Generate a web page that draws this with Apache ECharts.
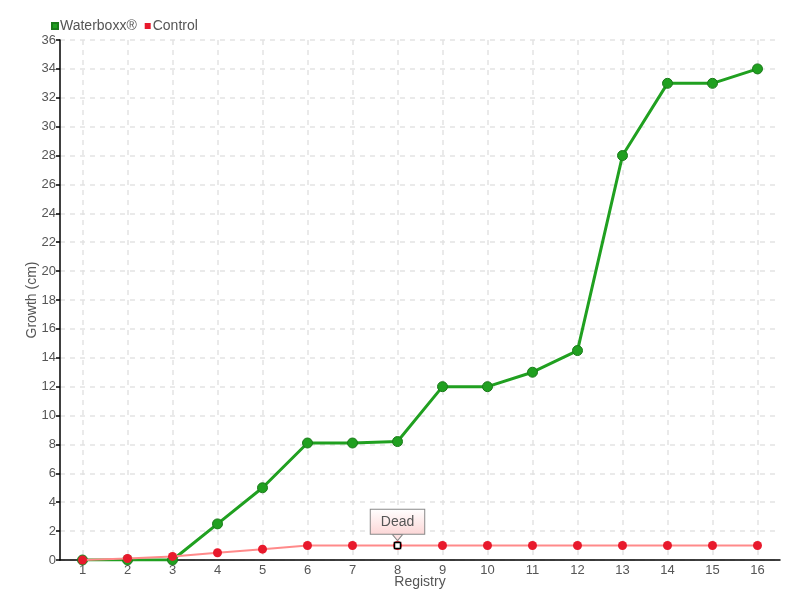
<!DOCTYPE html>
<html><head><meta charset="utf-8">
<script src="https://cdn.jsdelivr.net/npm/echarts@6/dist/echarts.min.js"></script>
<style>html,body{margin:0;padding:0;background:#fff}#c{width:800px;height:600px}</style>
</head><body><div id="c"></div>
<script>
const categories = ['1','2','3','4','5','6','7','8','9','10','11','12','13','14','15','16'];
const waterboxx = [0,0,0,2.5,5,8.1,8.1,8.2,12,12,13,14.5,28,33,33,34];
const control = [0,0.1,0.25,0.5,0.75,1,1,1,1,1,1,1,1,1,1,1];
const yTicks = {min:0, max:36, interval:2};
const annotation = {index:7, text:'Dead'};

const FONT = '"Liberation Sans",sans-serif';
const chart = echarts.init(document.getElementById('c'));
chart.setOption({
  animation:false,
  textStyle:{fontFamily:FONT, color:'#555'},
  legend:{left:46, top:14, itemWidth:6, itemHeight:6, itemGap:8, icon:'rect',
    textStyle:{fontFamily:FONT, fontSize:14, color:'#555', padding:[0,0,0,-3]},
    data:['Waterboxx®','Control']},
  grid:{left:60, right:20, top:40, bottom:40},
  xAxis:{type:'category', data:categories, boundaryGap:true,
    name:'Registry', nameLocation:'middle', nameGap:15, nameMoveOverlap:false,
    nameTextStyle:{fontFamily:FONT, fontSize:14, color:'#555'},
    axisLine:{lineStyle:{color:'#000', width:1.5}},
    axisTick:{alignWithLabel:true, length:5, lineStyle:{color:'#666'}},
    axisLabel:{fontFamily:FONT, fontSize:13, color:'#555', margin:4},
    splitLine:{show:true, alignWithLabel:true, lineStyle:{color:'#e4e4e4', type:[5,5], width:1.5}}},
  yAxis:{type:'value', min:yTicks.min, max:yTicks.max, interval:yTicks.interval,
    name:'Growth (cm)', nameLocation:'middle', nameGap:21, nameMoveOverlap:false,
    nameTextStyle:{fontFamily:FONT, fontSize:14, color:'#555'},
    axisLine:{show:true, lineStyle:{color:'#000', width:1.5}},
    axisTick:{show:true, length:4, lineStyle:{color:'#000', width:1.5}},
    axisLabel:{fontFamily:FONT, fontSize:13, color:'#555', margin:4},
    splitLine:{show:true, lineStyle:{color:'#e4e4e4', type:[5,5], width:1.5}}},
  series:[
    {name:'Waterboxx®', type:'line', data:waterboxx, symbol:'circle', symbolSize:10,
      lineStyle:{color:'#20a020', width:3}, itemStyle:{color:'#20a020', borderColor:'#1a7a1a', borderWidth:1}, z:2},
    {name:'Control', type:'line', data:control, symbol:'circle', symbolSize:9,
      lineStyle:{color:'#ff8a8a', width:2}, itemStyle:{color:'#e8192c', borderWidth:0}, z:3,
      markPoint:{silent:true,
        data:[
          {coord:[annotation.index, control[annotation.index]], symbol:'triangle', symbolRotate:180,
            symbolSize:[10,6], symbolOffset:[0,-8],
            itemStyle:{color:'#fde3e3', borderColor:'#888', borderWidth:1}, label:{show:false}},
          {coord:[annotation.index, control[annotation.index]], symbol:'rect', symbolSize:6,
            itemStyle:{color:'#fff', borderColor:'#000', borderWidth:1.5},
            label:{show:true, position:'top', distance:8, formatter:annotation.text,
              fontFamily:FONT, fontSize:14, color:'#555', padding:[5,10,5,10],
              backgroundColor:{type:'linear',x:0,y:0,x2:0,y2:1,colorStops:[{offset:0,color:'#fff'},{offset:1,color:'#fcd6d6'}]},
              borderColor:'#888', borderWidth:1}}
        ]}}
  ]
});
</script></body></html>
